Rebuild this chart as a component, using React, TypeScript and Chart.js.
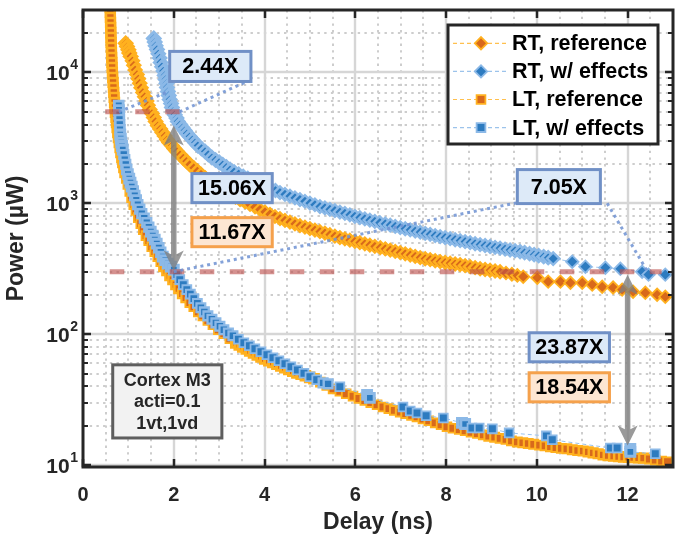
import React, { useEffect, useRef } from 'react';
import { Chart, registerables } from 'chart.js';

Chart.register(...registerables);

const FONT = '"Liberation Sans", Arial, Helvetica, sans-serif';

// ---- Power (µW) versus delay (ns) ----
const rtRefDelay = [
  0.94, 0.97, 1.00, 1.02, 1.05, 1.09, 1.12, 1.15, 1.19, 1.22,
  1.25, 1.28, 1.32, 1.36, 1.40, 1.43, 1.47, 1.52, 1.56, 1.60,
  1.65, 1.70, 1.75, 1.80, 1.85, 1.90, 1.96, 2.01, 2.07, 2.14,
  2.21, 2.28, 2.35, 2.44, 2.52, 2.60, 2.69, 2.78, 2.87, 2.97,
  3.06, 3.16, 3.26, 3.36, 3.46, 3.57, 3.68, 3.79, 3.90, 4.01,
  4.12, 4.23, 4.34, 4.45, 4.56, 4.67, 4.78, 4.89, 5.00, 5.11,
  5.22, 5.33, 5.44, 5.55, 5.66, 5.77, 5.88, 5.99, 6.10, 6.21,
  6.32, 6.43, 6.55, 6.66, 6.77, 6.88, 6.99, 7.10, 7.21, 7.32,
  7.43, 7.54, 7.65, 7.76, 7.87, 7.98, 8.09, 8.20, 8.31, 8.42,
  8.53, 8.64, 8.75, 8.86, 8.97, 9.08, 9.19, 9.32, 9.45, 9.57,
  9.70, 10.01, 10.25, 10.52, 10.74, 11.00, 11.22, 11.44, 11.68, 11.88,
  12.12, 12.39, 12.65, 12.83,
];
const rtRefPower = [
  16700, 15770, 14890, 14050, 13260, 12260, 11340, 10450, 9650, 8930,
  8260, 7630, 7030, 6520, 6040, 5610, 5210, 4860, 4530, 4220,
  3930, 3700, 3480, 3270, 3070, 2910, 2760, 2620, 2490, 2350,
  2220, 2095, 1980, 1867, 1762, 1665, 1573, 1492, 1415, 1342,
  1273, 1218, 1166, 1115, 1067, 1021, 977, 935, 895, 860,
  826, 794, 764, 740, 718, 696, 675, 658, 640, 624,
  607, 592, 576, 561, 547, 535, 523, 512, 500, 490,
  479, 469, 458, 449, 439, 429, 420, 411, 402, 393,
  384, 377, 371, 364, 358, 353, 349, 344, 340, 334,
  328, 322, 316, 312, 308, 304, 300, 293, 287, 281,
  275, 270, 252, 252, 247, 247, 239, 230, 227, 219,
  211, 207, 200, 193,
];

const rtEffDelay = [
  1.56, 1.58, 1.60, 1.63, 1.66, 1.69, 1.71, 1.74, 1.77, 1.80,
  1.82, 1.84, 1.85, 1.87, 1.89, 1.91, 1.94, 1.96, 1.99, 2.02,
  2.06, 2.09, 2.14, 2.19, 2.24, 2.29, 2.35, 2.41, 2.47, 2.53,
  2.61, 2.69, 2.76, 2.84, 2.92, 3.00, 3.08, 3.16, 3.24, 3.33,
  3.43, 3.53, 3.63, 3.72, 3.83, 3.93, 4.03, 4.13, 4.24, 4.34,
  4.45, 4.56, 4.67, 4.78, 4.89, 5.00, 5.11, 5.22, 5.33, 5.44,
  5.55, 5.66, 5.77, 5.88, 5.99, 6.10, 6.21, 6.32, 6.43, 6.54,
  6.66, 6.77, 6.88, 6.99, 7.10, 7.21, 7.32, 7.43, 7.54, 7.65,
  7.76, 7.87, 7.98, 8.09, 8.20, 8.31, 8.42, 8.53, 8.64, 8.75,
  8.86, 8.97, 9.08, 9.19, 9.30, 9.41, 9.52, 9.63, 9.73, 9.84,
  9.94, 10.04, 10.15, 10.25, 10.36, 10.78, 11.07, 11.51, 11.84, 12.32,
  12.46, 12.83,
];
const rtEffPower = [
  18200, 17060, 16000, 14990, 13880, 12880, 11930, 11050, 10240, 9485,
  8840, 8240, 7680, 7150, 6670, 6210, 5790, 5400, 5070, 4760,
  4480, 4220, 4000, 3790, 3600, 3415, 3240, 3070, 2910, 2764,
  2620, 2490, 2360, 2237, 2144, 2055, 1970, 1888, 1810, 1741,
  1675, 1612, 1551, 1492, 1440, 1390, 1342, 1296, 1251, 1207,
  1171, 1135, 1101, 1068, 1036, 1004, 974, 944, 921, 899,
  878, 857, 836, 816, 796, 777, 760, 744, 727, 712,
  696, 681, 666, 652, 639, 627, 614, 602, 590, 579,
  567, 556, 546, 537, 527, 518, 509, 500, 491, 483,
  476, 468, 461, 454, 447, 440, 434, 427, 420, 412,
  405, 398, 391, 384, 378, 358, 328, 322, 316, 300,
  285, 285,
];

const ltRefDelay = [
  0.600, 0.602, 0.604, 0.607, 0.610, 0.613, 0.617, 0.620, 0.624, 0.628,
  0.632, 0.637, 0.642, 0.648, 0.655, 0.662, 0.670, 0.678, 0.686, 0.695,
  0.704, 0.713, 0.726, 0.737, 0.750, 0.765, 0.780, 0.797, 0.815, 0.832,
  0.853, 0.874, 0.897, 0.922, 0.953, 0.988, 1.030, 1.070, 1.118, 1.166,
  1.218, 1.273, 1.328, 1.388, 1.449, 1.515, 1.582, 1.648, 1.714, 1.780,
  1.846, 1.913, 1.979, 2.045, 2.111, 2.189, 2.266, 2.354, 2.442, 2.541,
  2.641, 2.751, 2.862, 2.983, 3.104, 3.236, 3.369, 3.446, 3.523, 3.600,
  3.677, 3.760, 3.843, 3.925, 4.008, 4.097, 4.185, 4.273, 4.361, 4.449,
  4.537, 4.625, 4.714, 4.807, 4.900, 4.995, 5.089, 5.23, 5.37, 5.51,
  5.66, 5.80, 5.95, 6.08, 6.21, 6.34, 6.48, 6.61, 6.74, 6.86,
  6.99, 7.11, 7.24, 7.36, 7.49, 7.62, 7.76, 7.89, 8.02, 8.15,
  8.29, 8.42, 8.55, 8.69, 8.82, 8.94, 9.07, 9.19, 9.32, 9.44,
  9.57, 9.69, 9.81, 9.93, 10.06, 10.18, 10.30, 10.42, 10.54, 10.66,
  10.78, 10.90, 11.02, 11.13, 11.24, 11.35, 11.46, 11.57, 11.69, 11.80,
  11.91, 12.02, 12.13, 12.24, 12.35, 12.48, 12.61, 12.75, 12.88,
];
const ltRefPower = [
  31400, 28770, 26350, 24130, 22100, 20230, 18530, 16960, 15540, 14220,
  13030, 11930, 10920, 10000, 9157, 8386, 7677, 7031, 6437, 5895,
  5397, 4943, 4526, 4144, 3795, 3474, 3182, 2913, 2669, 2443,
  2237, 2049, 1876, 1718, 1545, 1390, 1229, 1105, 977, 880,
  777, 699, 629, 566, 518, 466, 427, 391, 358, 328,
  306, 280, 261, 239, 223, 204, 190, 174, 162, 148,
  138, 127, 118, 108, 101, 92.2, 85.9, 83.0, 80.1, 77.3,
  74.6, 72.1, 69.6, 67.2, 64.8, 62.9, 61.0, 59.1, 57.3, 55.6,
  53.9, 52.3, 50.7, 49.4, 48.1, 46.8, 45.6, 43.0, 40.5, 38.2,
  36.6, 35.1, 33.6, 32.3, 31.1, 30.0, 28.9, 27.8, 27.0, 26.2,
  25.4, 24.7, 24.0, 23.3, 22.5, 21.8, 21.0, 20.3, 19.6, 19.1,
  18.7, 18.3, 17.8, 17.4, 17.0, 16.6, 16.3, 16.0, 15.7, 15.3,
  15.0, 14.8, 14.6, 14.4, 14.2, 14.0, 13.8, 13.6, 13.4, 13.3,
  13.1, 12.9, 12.8, 12.6, 12.4, 12.2, 11.95, 11.8, 11.7, 11.6,
  11.5, 11.45, 11.4, 11.35, 11.3, 11.1, 10.9, 10.75, 10.6,
];

const ltEffDelay = [
  0.788, 0.793, 0.799, 0.804, 0.810, 0.815, 0.821, 0.832, 0.843, 0.860,
  0.876, 0.898, 0.920, 0.942, 0.964, 0.991, 1.019, 1.046, 1.074, 1.107,
  1.141, 1.174, 1.207, 1.251, 1.295, 1.350, 1.405, 1.450, 1.494, 1.538,
  1.582, 1.626, 1.670, 1.714, 1.758, 1.813, 1.869, 1.935, 2.001, 2.067,
  2.133, 2.210, 2.288, 2.365, 2.442, 2.520, 2.597, 2.674, 2.751, 2.840,
  2.928, 3.016, 3.104, 3.204, 3.303, 3.424, 3.545, 3.667, 3.788, 3.921,
  4.053, 4.185, 4.317, 4.450, 4.582, 4.725, 4.869, 5.00, 5.15, 5.29,
  5.40, 5.66, 6.26, 6.32, 7.05, 7.21, 7.36, 7.56, 7.94, 8.35,
  8.42, 8.57, 8.73, 9.02, 9.39, 10.21, 10.34, 11.62, 11.77, 12.06,
  12.06, 12.61,
];
const ltEffPower = [
  5590, 5160, 4772, 4370, 4000, 3660, 3354, 3120, 2913, 2740,
  2576, 2360, 2160, 1980, 1810, 1670, 1545, 1440, 1342, 1240,
  1145, 1058, 977, 903, 834, 771, 712, 657, 607, 566,
  528, 492, 458, 423, 391, 368, 346, 328, 311, 285,
  261, 239, 219, 202, 187, 172, 159, 148, 138, 130,
  122, 115, 108, 102, 97.2, 91.4, 86.0, 81.5, 77.3, 73.3,
  69.6, 66.0, 62.6, 59.4, 56.3, 53.2, 50.2, 47.2, 44.8, 42.5,
  41.7, 39.6, 34.4, 32.6, 27.8, 25.9, 25.0, 23.8, 22.9, 21.0,
  20.6, 19.2, 19.2, 18.9, 17.6, 16.7, 15.6, 13.5, 13.5, 13.3,
  12.6, 12.2,
];

const seriesLabels = ['RT, reference', 'RT, w/ effects', 'LT, reference', 'LT, w/ effects'];
const xTickValues = [0, 2, 4, 6, 8, 10, 12];
const yDecadeValues = [10, 100, 1000, 10000];

// iso-power guides: power (µW) and delay span (ns)
const isoPowerLines = [
  { power: 5000, from: 0.49, to: 2.13 },
  { power: 300, from: 0.59, to: 12.75 },
];

// power gap arrows at fixed delay
const gapArrows = [
  { delay: 2, top: 3930, bottom: 306 },
  { delay: 12, top: 285, bottom: 14.1 },
];

// ratio call-outs, placed in data coordinates
const ratioBoxes = [
  { text: '2.44X', x0: 1.91, x1: 3.70, top: 14480, bottom: 8530, tone: 'blue' },
  { text: '15.06X', x0: 2.40, x1: 4.17, top: 1687, bottom: 1012, tone: 'blue' },
  { text: '11.67X', x0: 2.40, x1: 4.17, top: 777, bottom: 466, tone: 'orange' },
  { text: '7.05X', x0: 9.57, x1: 11.40, top: 1810, bottom: 995, tone: 'blue' },
  { text: '23.87X', x0: 9.83, x1: 11.60, top: 102.5, bottom: 61.5, tone: 'blue' },
  { text: '18.54X', x0: 9.83, x1: 11.60, top: 50.7, bottom: 30.4, tone: 'orange' },
];

// dotted leaders between iso-power points and call-outs
const leaders = [
  [[0.79, 5000], [1.89, 7160]],
  [[2.13, 5000], [3.61, 8530]],
  [[2.0, 300], [9.57, 1010]],
  [[11.55, 1000], [12.44, 300]],
];

const noteBox = { x0: 0.655, x1: 3.06, top: 58.3, bottom: 16.1 };
const noteLines = ['Cortex M3', 'acti=0.1', '1vt,1vd'];

const ORANGE_EDGE = '#FFB11F';
const ORANGE_FILL = '#D8691B';
const ORANGE_LINE = '#FFC04E';
const BLUE_EDGE = '#8CB9E7';
const BLUE_FILL = '#2D7BC0';
const BLUE_LINE = '#9CC3EB';
const AXIS_COLOR = '#262626';
const EDGE_THIN = 1.8;
const EDGE_CROWDED = 3.1;

function drawMarker(ctx, style, cx, cy, r, fill, edge, bw) {
  ctx.beginPath();
  if (style === 'rectRot') {
    ctx.moveTo(cx - r, cy);
    ctx.lineTo(cx, cy - r);
    ctx.lineTo(cx + r, cy);
    ctx.lineTo(cx, cy + r);
    ctx.closePath();
  } else {
    const s = r * Math.SQRT1_2;
    ctx.rect(cx - s, cy - s, 2 * s, 2 * s);
  }
  ctx.fillStyle = fill;
  ctx.fill();
  ctx.lineWidth = bw;
  ctx.strokeStyle = edge;
  ctx.stroke();
}

// markers packed closely along a curve read mostly as their edge colour
function edgeWidthFor(ctx) {
  const chart = ctx.chart;
  const xs = chart.scales && chart.scales.x;
  const ys = chart.scales && chart.scales.y;
  const pts = ctx.dataset && ctx.dataset.data;
  const i = ctx.dataIndex;
  if (!xs || !ys || !pts || i == null) return EDGE_THIN;
  const p = pts[i];
  const dist = (q) => (q
    ? Math.hypot(xs.getPixelForValue(q.x) - xs.getPixelForValue(p.x), ys.getPixelForValue(q.y) - ys.getPixelForValue(p.y))
    : Infinity);
  const gap = Math.min(dist(pts[i - 1]), dist(pts[i + 1]));
  const w = EDGE_CROWDED - (gap - 4.2) * 0.75;
  return Math.max(EDGE_THIN, Math.min(EDGE_CROWDED, w));
}

function minorPowers(min, max) {
  const out = [];
  for (let d = 1; d <= 100000; d *= 10) {
    for (let m = 2; m <= 9; m++) {
      const v = m * d;
      if (v > min && v < max) out.push(v);
    }
  }
  return out;
}

const gridPlugin = {
  id: 'figureGrid',
  beforeDatasetsDraw(chart) {
    const { ctx, chartArea: a, scales } = chart;
    const xs = scales.x;
    const ys = scales.y;
    ctx.save();
    ctx.lineCap = 'butt';
    ctx.strokeStyle = '#cdcdcd';
    ctx.lineWidth = 2;
    ctx.setLineDash([2.4, 4.3]);
    for (let v = 0.5; v < xs.max; v += 0.5) {
      if (v % 2 === 0) continue;
      const px = Math.round(xs.getPixelForValue(v));
      ctx.beginPath();
      ctx.moveTo(px, a.top);
      ctx.lineTo(px, a.bottom);
      ctx.stroke();
    }
    for (const v of minorPowers(ys.min, ys.max)) {
      const py = Math.round(ys.getPixelForValue(v));
      ctx.beginPath();
      ctx.moveTo(a.left, py);
      ctx.lineTo(a.right, py);
      ctx.stroke();
    }
    ctx.setLineDash([]);
    ctx.strokeStyle = '#d6d6d6';
    ctx.lineWidth = 2.4;
    for (const v of xTickValues) {
      if (v === 0) continue;
      const px = Math.round(xs.getPixelForValue(v));
      ctx.beginPath();
      ctx.moveTo(px, a.top);
      ctx.lineTo(px, a.bottom);
      ctx.stroke();
    }
    for (const v of yDecadeValues) {
      const py = Math.round(ys.getPixelForValue(v));
      ctx.beginPath();
      ctx.moveTo(a.left, py);
      ctx.lineTo(a.right, py);
      ctx.stroke();
    }
    ctx.restore();
  },
};

function doubleArrowPath(ctx, x, yTop, yBot) {
  const hl = 20, hw = 10, notch = 5, sw = 5.5;
  const yb = yTop + hl - notch + (notch * sw) / (2 * hw);
  const off = yb - yTop;
  ctx.beginPath();
  ctx.moveTo(x, yTop);
  ctx.lineTo(x + hw, yTop + hl);
  ctx.lineTo(x + sw / 2, yb);
  ctx.lineTo(x + sw / 2, yBot - off);
  ctx.lineTo(x + hw, yBot - hl);
  ctx.lineTo(x, yBot);
  ctx.lineTo(x - hw, yBot - hl);
  ctx.lineTo(x - sw / 2, yBot - off);
  ctx.lineTo(x - sw / 2, yb);
  ctx.lineTo(x - hw, yTop + hl);
  ctx.closePath();
}

const overlayPlugin = {
  id: 'figureOverlay',
  afterDatasetsDraw(chart) {
    const { ctx, scales } = chart;
    const xs = scales.x;
    const ys = scales.y;
    const X = (v) => xs.getPixelForValue(v);
    const Y = (v) => ys.getPixelForValue(v);
    ctx.save();

    ctx.strokeStyle = 'rgba(188, 78, 74, 0.62)';
    ctx.lineWidth = 5;
    ctx.lineCap = 'butt';
    ctx.setLineDash([14.5, 15.5]);
    for (const l of isoPowerLines) {
      ctx.beginPath();
      ctx.moveTo(X(l.from), Y(l.power));
      ctx.lineTo(X(l.to), Y(l.power));
      ctx.stroke();
    }

    ctx.strokeStyle = 'rgba(110, 146, 210, 0.85)';
    ctx.lineWidth = 3;
    ctx.setLineDash([3, 3.8]);
    for (const [p0, p1] of leaders) {
      ctx.beginPath();
      ctx.moveTo(X(p0[0]), Y(p0[1]));
      ctx.lineTo(X(p1[0]), Y(p1[1]));
      ctx.stroke();
    }
    ctx.setLineDash([]);

    ctx.fillStyle = 'rgba(125, 125, 125, 0.78)';
    for (const g of gapArrows) {
      doubleArrowPath(ctx, X(g.delay), Y(g.top), Y(g.bottom));
      ctx.fill();
    }

    ctx.textAlign = 'center';
    ctx.textBaseline = 'middle';
    ctx.font = `bold 21.5px ${FONT}`;
    for (const b of ratioBoxes) {
      const l = X(b.x0), r = X(b.x1), t = Y(b.top), bt = Y(b.bottom);
      ctx.fillStyle = b.tone === 'blue' ? '#DDEAF8' : '#FDE6D2';
      ctx.fillRect(l, t, r - l, bt - t);
      ctx.strokeStyle = b.tone === 'blue' ? '#7090C6' : '#F5A14C';
      ctx.lineWidth = 3;
      ctx.strokeRect(l, t, r - l, bt - t);
      ctx.fillStyle = '#000';
      ctx.fillText(b.text, (l + r) / 2, (t + bt) / 2 + 1);
    }

    {
      const l = X(noteBox.x0), r = X(noteBox.x1), t = Y(noteBox.top), bt = Y(noteBox.bottom);
      ctx.fillStyle = '#F2F2F2';
      ctx.fillRect(l, t, r - l, bt - t);
      ctx.strokeStyle = '#5E5E5E';
      ctx.lineWidth = 3;
      ctx.strokeRect(l, t, r - l, bt - t);
      ctx.fillStyle = '#262626';
      ctx.font = `bold 18px ${FONT}`;
      const step = (bt - t) / (noteLines.length + 0.4);
      noteLines.forEach((s, i) => {
        ctx.fillText(s, (l + r) / 2, t + step * (i + 0.7) + 1);
      });
    }

    {
      const bx = 448, by = 25, bw = 210, bh = 119;
      ctx.fillStyle = '#fff';
      ctx.fillRect(bx, by, bw, bh);
      ctx.strokeStyle = AXIS_COLOR;
      ctx.lineWidth = 3;
      ctx.strokeRect(bx, by, bw, bh);
      ctx.textAlign = 'left';
      ctx.textBaseline = 'middle';
      ctx.font = `bold 21.5px ${FONT}`;
      chart.data.datasets.forEach((ds, i) => {
        const cy = 43.3 + i * 28.1;
        ctx.strokeStyle = ds.borderColor;
        ctx.lineWidth = 1.2;
        ctx.setLineDash([4, 3]);
        ctx.beginPath();
        ctx.moveTo(453, cy);
        ctx.lineTo(508, cy);
        ctx.stroke();
        ctx.setLineDash([]);
        drawMarker(ctx, ds.pointStyle, 481, cy, ds.pointRadius, ds.pointBackgroundColor, ds.pointBorderColor, EDGE_THIN);
        ctx.fillStyle = '#000';
        ctx.fillText(ds.label, 512, cy + 1);
      });
    }
    ctx.restore();
  },
  afterDraw(chart) {
    const { ctx, chartArea: a, scales } = chart;
    const xs = scales.x;
    const ys = scales.y;
    ctx.save();
    ctx.strokeStyle = AXIS_COLOR;
    ctx.fillStyle = AXIS_COLOR;
    ctx.lineCap = 'butt';

    ctx.lineWidth = 2.5;
    for (const v of xTickValues) {
      const px = Math.round(xs.getPixelForValue(v));
      ctx.beginPath();
      ctx.moveTo(px, a.bottom);
      ctx.lineTo(px, a.bottom - 8);
      ctx.moveTo(px, a.top);
      ctx.lineTo(px, a.top + 8);
      ctx.stroke();
    }
    for (const v of yDecadeValues) {
      const py = Math.round(ys.getPixelForValue(v));
      ctx.beginPath();
      ctx.moveTo(a.left, py);
      ctx.lineTo(a.left + 8, py);
      ctx.moveTo(a.right, py);
      ctx.lineTo(a.right - 8, py);
      ctx.stroke();
    }
    ctx.lineWidth = 2;
    for (const v of minorPowers(ys.min, ys.max)) {
      const py = Math.round(ys.getPixelForValue(v));
      ctx.beginPath();
      ctx.moveTo(a.left, py);
      ctx.lineTo(a.left + 5, py);
      ctx.moveTo(a.right, py);
      ctx.lineTo(a.right - 5, py);
      ctx.stroke();
    }

    ctx.lineWidth = 3;
    ctx.strokeRect(a.left, a.top, a.right - a.left, a.bottom - a.top);

    ctx.font = `bold 20px ${FONT}`;
    ctx.textAlign = 'center';
    ctx.textBaseline = 'middle';
    for (const v of xTickValues) {
      ctx.fillText(String(v), xs.getPixelForValue(v), a.bottom + 28);
    }

    for (const v of yDecadeValues) {
      const py = ys.getPixelForValue(v);
      const exp = String(Math.round(Math.log10(v)));
      ctx.font = `bold 14px ${FONT}`;
      const ew = ctx.measureText(exp).width;
      const right = a.left - 5;
      ctx.textAlign = 'left';
      ctx.textBaseline = 'alphabetic';
      ctx.fillText(exp, right - ew, py - 3);
      ctx.font = `bold 21px ${FONT}`;
      ctx.textAlign = 'right';
      ctx.fillText('10', right - ew - 0.5, py + 8);
    }

    ctx.font = `bold 23px ${FONT}`;
    ctx.textAlign = 'center';
    ctx.textBaseline = 'middle';
    ctx.fillText('Delay (ns)', (a.left + a.right) / 2, a.bottom + 56);
    ctx.translate(17, (a.top + a.bottom) / 2);
    ctx.rotate(-Math.PI / 2);
    ctx.fillText('Power (µW)', 0, 0);
    ctx.restore();
  },
};

function series(label, delays, powers, style, fill, edge, line, order) {
  return {
    label,
    data: delays.map((d, i) => ({ x: d, y: powers[i] })),
    showLine: true,
    borderColor: line,
    borderWidth: 1,
    borderDash: [4, 3],
    pointStyle: style,
    pointRadius: 6.2,
    pointBorderWidth: edgeWidthFor,
    pointBackgroundColor: fill,
    pointBorderColor: edge,
    pointHoverRadius: 6,
    order,
    clip: 0,
  };
}

export default function App() {
  const canvasRef = useRef(null);

  useEffect(() => {
    const canvas = canvasRef.current;
    if (!canvas) return;
    const chart = new Chart(canvas, {
      type: 'scatter',
      data: {
        datasets: [
          series(seriesLabels[0], rtRefDelay, rtRefPower, 'rectRot', ORANGE_FILL, ORANGE_EDGE, ORANGE_LINE, 4),
          series(seriesLabels[1], rtEffDelay, rtEffPower, 'rectRot', BLUE_FILL, BLUE_EDGE, BLUE_LINE, 3),
          series(seriesLabels[2], ltRefDelay, ltRefPower, 'rect', ORANGE_FILL, ORANGE_EDGE, ORANGE_LINE, 2),
          series(seriesLabels[3], ltEffDelay, ltEffPower, 'rect', BLUE_FILL, BLUE_EDGE, BLUE_LINE, 1),
        ],
      },
      options: {
        responsive: false,
        animation: false,
        devicePixelRatio: 1,
        events: [],
        layout: { padding: { left: 0, right: 10, top: 10, bottom: 0 } },
        plugins: { legend: { display: false }, tooltip: { enabled: false } },
        scales: {
          x: {
            type: 'linear',
            min: 0,
            max: 13,
            grid: { display: false },
            border: { display: false },
            ticks: { display: false },
            afterFit: (s) => { s.height = 71; },
          },
          y: {
            type: 'logarithmic',
            min: 9.66,
            max: 30000,
            grid: { display: false },
            border: { display: false },
            ticks: { display: false },
            afterFit: (s) => { s.width = 83; },
          },
        },
      },
      plugins: [gridPlugin, overlayPlugin],
    });
    return () => chart.destroy();
  }, []);

  return (
    <div style={{ position: 'absolute', left: 0, top: 0, width: 683, height: 538, background: '#fff' }}>
      <canvas ref={canvasRef} width={683} height={538} style={{ display: 'block' }} />
    </div>
  );
}
